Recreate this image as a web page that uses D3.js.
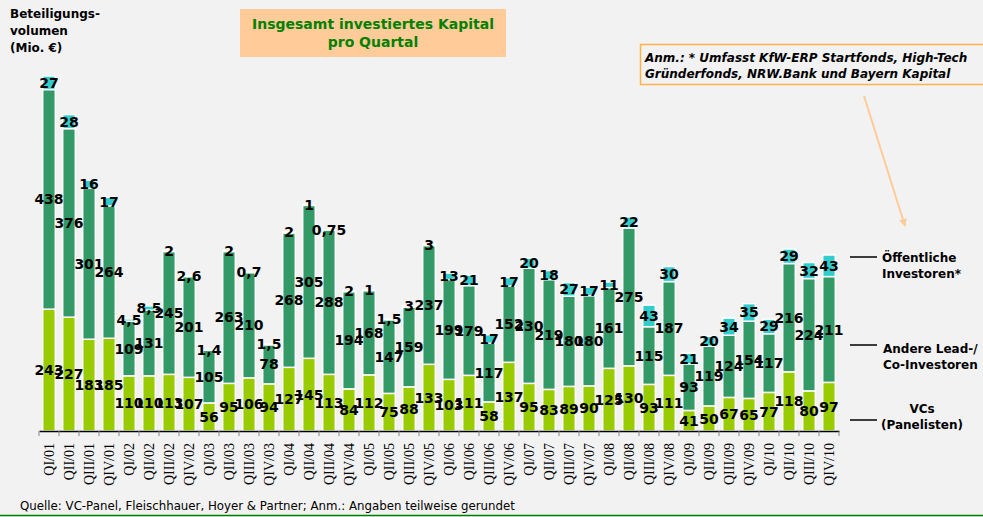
<!DOCTYPE html>
<html>
<head>
<meta charset="utf-8">
<script src="https://cdn.jsdelivr.net/npm/d3@7"></script>
<style>
  body { margin: 0; background: #f2f2f2; }
  svg { display: block; }
</style>
</head>
<body>
<svg id="chart" width="983" height="517"></svg>
<script>
// Quartale QI/01 .. QIV/10
var quarters = [
  'QI/01', 'QII/01', 'QIII/01', 'QIV/01', 'QI/02', 'QII/02', 'QIII/02', 'QIV/02',
  'QI/03', 'QII/03', 'QIII/03', 'QIV/03', 'QI/04', 'QII/04', 'QIII/04', 'QIV/04',
  'QI/05', 'QII/05', 'QIII/05', 'QIV/05', 'QI/06', 'QII/06', 'QIII/06', 'QIV/06',
  'QI/07', 'QII/07', 'QIII/07', 'QIV/07', 'QI/08', 'QII/08', 'QIII/08', 'QIV/08',
  'QI/09', 'QII/09', 'QIII/09', 'QIV/09', 'QI/10', 'QII/10', 'QIII/10', 'QIV/10'
];

var vcs = [243, 227, 183, 185, 110, 110, 113, 107, 56, 95, 106, 94, 127, 145, 113, 84,
  112, 75, 88, 133, 103, 111, 58, 137, 95, 83, 89, 90, 125, 130, 93, 111,
  41, 50, 67, 65, 77, 118, 80, 97];

var andere = [438, 376, 301, 264, 109, 131, 245, 201, 105, 263, 210, 78, 268, 305, 288, 194,
  168, 147, 159, 237, 199, 179, 117, 152, 230, 219, 180, 180, 161, 275, 115, 187,
  93, 119, 124, 154, 117, 216, 224, 211];

var oeffentlich = [27, 28, 16, 17, 4.5, 8.5, 2, 2.6, 1.4, 2, 0.7, 1.5, 2, 1, 0.75, 2,
  1, 1.5, 3, 3, 13, 21, 17, 17, 20, 18, 27, 17, 11, 22, 43, 30,
  21, 20, 34, 35, 29, 29, 32, 43];

var seriesKeys = ['vcs', 'andere', 'oeffentlich'];
var seriesColors = { vcs: '#99cc00', andere: '#339966', oeffentlich: '#33cccc' };

var rows = quarters.map(function (q, i) {
  return { q: q, vcs: vcs[i], andere: andere[i], oeffentlich: oeffentlich[i] };
});

var svg = d3.select('#chart');
var font = "'DejaVu Sans', Verdana, sans-serif";

var x = d3.scaleBand().domain(quarters).range([39, 839]).paddingInner(0.37).paddingOuter(0.185);
var y = d3.scaleLinear().domain([0, 700]).range([431, 80]);

var fmt = function (v) { return String(v).replace('.', ','); };

var stacked = d3.stack().keys(seriesKeys)(rows);

var layers = svg.append('g').selectAll('g')
  .data(stacked)
  .join('g')
  .attr('fill', function (d) { return seriesColors[d.key]; });

layers.selectAll('rect')
  .data(function (d) { return d; })
  .join('rect')
  .attr('x', function (d) { return x(d.data.q); })
  .attr('width', x.bandwidth())
  .attr('y', function (d) { return y(d[1]); })
  .attr('height', function (d) { return y(d[0]) - y(d[1]); })
  .attr('stroke', '#ffffff')
  .attr('stroke-width', 1.5);

// Werte-Beschriftungen
var labels = svg.append('g')
  .attr('font-family', font)
  .attr('font-weight', 'bold')
  .attr('font-size', 14)
  .attr('fill', '#000')
  .attr('text-anchor', 'middle');

stacked.forEach(function (layer) {
  labels.selectAll(null)
    .data(layer)
    .join('text')
    .attr('x', function (d) { return x(d.data.q) + x.bandwidth() / 2; })
    .attr('y', function (d) { return (y(d[0]) + y(d[1])) / 2; })
    .attr('dy', '0.36em')
    .text(function (d) { return fmt(d.data[layer.key]); });
});

// x-Achse
var axis = svg.append('g')
  .attr('transform', 'translate(0,431)')
  .call(d3.axisBottom(x).tickSize(0).tickPadding(0));
axis.select('.domain').attr('stroke', '#000').attr('stroke-width', 1.5);
axis.selectAll('.tick text')
  .attr('font-family', "'Liberation Serif', 'Times New Roman', serif")
  .attr('font-size', 14)
  .attr('fill', '#000')
  .attr('text-anchor', 'end')
  .attr('transform', 'translate(0,12) rotate(-90)')
  .attr('dy', '0.35em')
  .attr('y', 0)
  .attr('x', 0);

var bounds = d3.range(quarters.length + 1).map(function (i) { return 39 + i * x.step(); });
svg.append('g').selectAll('line')
  .data(bounds)
  .join('line')
  .attr('x1', function (d) { return d; })
  .attr('x2', function (d) { return d; })
  .attr('y1', 431)
  .attr('y2', 436)
  .attr('stroke', '#888')
  .attr('stroke-width', 1);

// Achsentitel
svg.append('text')
  .attr('font-family', font)
  .attr('font-weight', 'bold')
  .attr('font-size', 12)
  .selectAll('tspan')
  .data(['Beteiligungs-', 'volumen', '(Mio. €)'])
  .join('tspan')
  .attr('x', 10)
  .attr('y', function (d, i) { return 18 + i * 17; })
  .text(function (d) { return d; });

// Titelbox
svg.append('rect')
  .attr('x', 240).attr('y', 9).attr('width', 266).attr('height', 48)
  .attr('fill', '#ffcc99');
svg.append('text')
  .attr('font-family', font)
  .attr('font-weight', 'bold')
  .attr('font-size', 14)
  .attr('fill', '#008000')
  .attr('text-anchor', 'middle')
  .selectAll('tspan')
  .data(['Insgesamt investiertes Kapital', 'pro Quartal'])
  .join('tspan')
  .attr('x', 373)
  .attr('y', function (d, i) { return 29 + i * 18; })
  .text(function (d) { return d; });

// Anmerkungsbox
svg.append('rect')
  .attr('x', 640.5).attr('y', 44.5).attr('width', 350).attr('height', 40)
  .attr('fill', 'none')
  .attr('stroke', '#ffb347')
  .attr('stroke-width', 1.5);
svg.append('text')
  .attr('font-family', font)
  .attr('font-weight', 'bold')
  .attr('font-style', 'italic')
  .attr('font-size', 12)
  .attr('fill', '#000')
  .selectAll('tspan')
  .data(['Anm.: * Umfasst KfW-ERP Startfonds, High-Tech', 'Gründerfonds, NRW.Bank und Bayern Kapital'])
  .join('tspan')
  .attr('x', 645)
  .attr('y', function (d, i) { return 62 + i * 15.5; })
  .text(function (d) { return d; });

// Pfeil
svg.append('defs').append('marker')
  .attr('id', 'arrow')
  .attr('viewBox', '0 0 10 10')
  .attr('refX', 9).attr('refY', 5)
  .attr('markerWidth', 4).attr('markerHeight', 4)
  .attr('orient', 'auto')
  .append('path')
  .attr('d', 'M0,0L10,5L0,10z')
  .attr('fill', '#ffcc99');
svg.append('line')
  .attr('x1', 864).attr('y1', 96)
  .attr('x2', 905).attr('y2', 226)
  .attr('stroke', '#ffcc99')
  .attr('stroke-width', 2)
  .attr('marker-end', 'url(#arrow)');

// Legende
var legendItems = [
  { lines: ['Öffentliche', 'Investoren*'], y: 257, base: 262, anchor: 'start', tx: 882 },
  { lines: ['Andere Lead-/', 'Co-Investoren'], y: 345, base: 353, anchor: 'start', tx: 883 },
  { lines: ['VCs', '(Panelisten)'], y: 420, base: 413, anchor: 'middle', tx: 922 }
];
var legend = svg.append('g');
legend.selectAll('line')
  .data(legendItems)
  .join('line')
  .attr('x1', 850).attr('x2', 877)
  .attr('y1', function (d) { return d.y; })
  .attr('y2', function (d) { return d.y; })
  .attr('stroke', '#000')
  .attr('stroke-width', 1.5);
legend.selectAll('text')
  .data(legendItems)
  .join('text')
  .attr('font-family', font)
  .attr('font-weight', 'bold')
  .attr('font-size', 12)
  .attr('text-anchor', function (d) { return d.anchor; })
  .each(function (d) {
    d3.select(this).selectAll('tspan')
      .data(d.lines)
      .join('tspan')
      .attr('x', d.tx)
      .attr('y', function (t, i) { return d.base + i * 16; })
      .text(function (t) { return t; });
  });

// Quelle
svg.append('text')
  .attr('x', 20).attr('y', 510)
  .attr('font-family', font)
  .attr('font-size', 11.8)
  .attr('fill', '#000')
  .text('Quelle: VC-Panel, Fleischhauer, Hoyer & Partner; Anm.: Angaben teilweise gerundet');

svg.append('line')
  .attr('x1', 0).attr('x2', 983)
  .attr('y1', 515.5).attr('y2', 515.5)
  .attr('stroke', '#008000')
  .attr('stroke-width', 1.5);
</script>
</body>
</html>
